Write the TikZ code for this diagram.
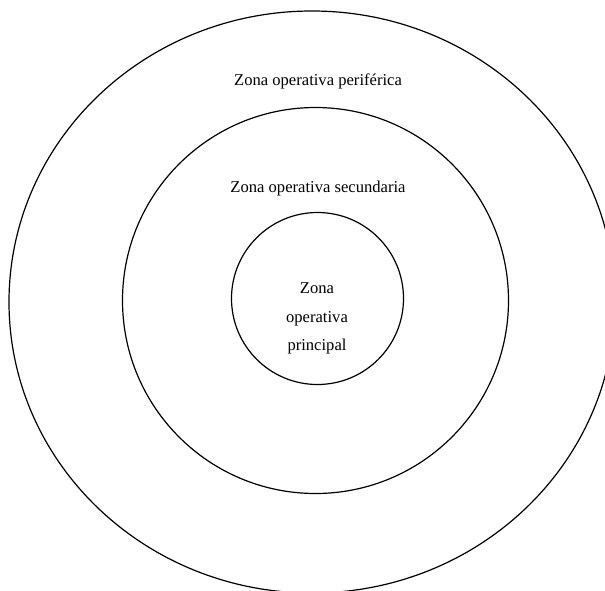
\documentclass[tikz,border=0pt]{standalone}
\usepackage{fontspec}
\setmainfont{Liberation Serif}
\usetikzlibrary{shapes.geometric}
\begin{document}
\begin{tikzpicture}[x=1pt,y=-1pt,
  ring/.style={draw=black, line width=1.2pt, inner sep=0pt},
  label/.style={font=\fontsize{16.6}{29}\selectfont, inner sep=0pt, anchor=base, align=center}]
\useasboundingbox (0,0) rectangle (605,590);
\node[ring, ellipse, minimum width=606pt, minimum height=582pt] (outer) at (312,302) {};
\node[ring, circle, minimum size=386pt] (middle) at (315.5,300.5) {};
\node[ring, circle, minimum size=172pt] (inner) at (317.5,298.5) {};
\node[label] (tperif) at (318,85) {Zona operativa periférica};
\node[label] (tsec) at (318,192) {Zona operativa secundaria};
\node[label] (tz) at (317,293) {Zona};
\node[label] (top) at (317,322) {operativa};
\node[label] (tpr) at (317,350) {principal};
\end{tikzpicture}
\end{document}
